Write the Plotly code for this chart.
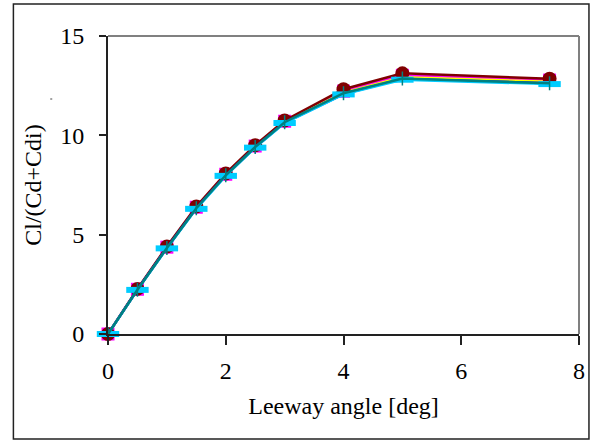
import plotly.graph_objects as go

leeway = [0, 0.5, 1, 1.5, 2, 2.5, 3, 4, 5, 7.5]

series_names = ["Series 1", "Series 2", "Series 3", "Series 4", "Series 5", "Series 6"]
s1 = [0, 2.27, 4.40, 6.42, 8.08, 9.50, 10.75, 12.32, 13.12, 12.85]
s2 = [0, 2.25, 4.37, 6.38, 8.04, 9.46, 10.71, 12.22, 13.02, 12.78]
s3 = [0, 2.24, 4.35, 6.36, 8.01, 9.43, 10.68, 12.15, 12.92, 12.70]
s4 = [0, 2.23, 4.33, 6.33, 7.98, 9.40, 10.64, 12.08, 12.84, 12.62]
s5 = [0, 2.23, 4.33, 6.33, 7.99, 9.41, 10.66, 12.12, 12.86, 12.62]
s6 = [0, 2.22, 4.31, 6.30, 7.96, 9.38, 10.62, 12.06, 12.80, 12.58]

x_ticks = [0, 2, 4, 6, 8]
y_ticks = [0, 5, 10, 15]

FONT = "Liberation Serif"

fig = go.Figure()

styles = [
    (s2, "#FF00FF", dict(symbol="square", size=13, color="#FF00FF", line=dict(width=0))),
    (s3, "#FFFF00", dict(symbol="triangle-up", size=12, color="#FFFF00", line=dict(width=0))),
    (s1, "#800000", dict(symbol="circle", size=14, color="#800000", line=dict(width=0))),
    (s4, "#0000FF", dict(symbol="circle", size=1, color="#0000FF", line=dict(width=0))),
    (s6, "#00CCFF", dict(symbol="line-ew", size=16, color="#00CCFF", line=dict(width=6, color="#00CCFF"))),
    (s5, "#008080", dict(symbol="line-ns", size=10, color="#008080", line=dict(width=1.5, color="#008080"))),
]
for i, (ys, col, mk) in enumerate(styles):
    fig.add_trace(go.Scatter(
        x=leeway, y=ys, mode="lines+markers",
        line=dict(color=col, width=2.5),
        marker=mk, name=series_names[i], showlegend=False,
        cliponaxis=False,
    ))

W, H = 597, 440
L, R, T, B = 108, 581, 36, 334
pw, ph = R - L, B - T

def px(x):
    return (x - L) / pw

def py(y):
    return (B - y) / ph

shapes = [
    dict(type="rect", xref="paper", yref="paper",
         x0=px(13), x1=px(591), y0=py(439), y1=py(4),
         line=dict(color="#222222", width=1.5), fillcolor="rgba(0,0,0,0)", layer="below"),
    dict(type="line", xref="paper", yref="paper", x0=0, x1=1, y0=1, y1=1,
         line=dict(color="#808080", width=2)),
    dict(type="line", xref="paper", yref="paper", x0=1, x1=1, y0=0, y1=1,
         line=dict(color="#808080", width=2)),
    dict(type="line", xref="paper", yref="paper", x0=px(50), x1=px(52), y0=py(99), y1=py(99),
         line=dict(color="#444444", width=1)),
]

fig.update_layout(
    width=W, height=H,
    margin=dict(l=L, r=W - R, t=T, b=H - B),
    plot_bgcolor="white", paper_bgcolor="white",
    font=dict(family=FONT, size=24, color="black"),
    shapes=shapes,
    xaxis=dict(
        range=[0, 8], tickvals=x_ticks, ticktext=[str(v) for v in x_ticks],
        showgrid=False, zeroline=False, showline=True, linecolor="#222222", linewidth=2,
        ticks="outside", ticklen=9, tickwidth=1.5, tickcolor="#222222",
        tickfont=dict(family=FONT, size=24), ticklabelstandoff=5,
        title=dict(text="Leeway angle [deg]", font=dict(family=FONT, size=24), standoff=14),
    ),
    yaxis=dict(
        range=[0, 15], tickvals=y_ticks, ticktext=[str(v) for v in y_ticks],
        showgrid=False, zeroline=False, showline=True, linecolor="#222222", linewidth=2,
        ticks="outside", ticklen=7, tickwidth=1.5, tickcolor="#222222",
        tickfont=dict(family=FONT, size=24), ticklabelstandoff=10,
        title=dict(text="Cl/(Cd+Cdi)", font=dict(family=FONT, size=24), standoff=12),
    ),
)

fig.write_html("out.html")
